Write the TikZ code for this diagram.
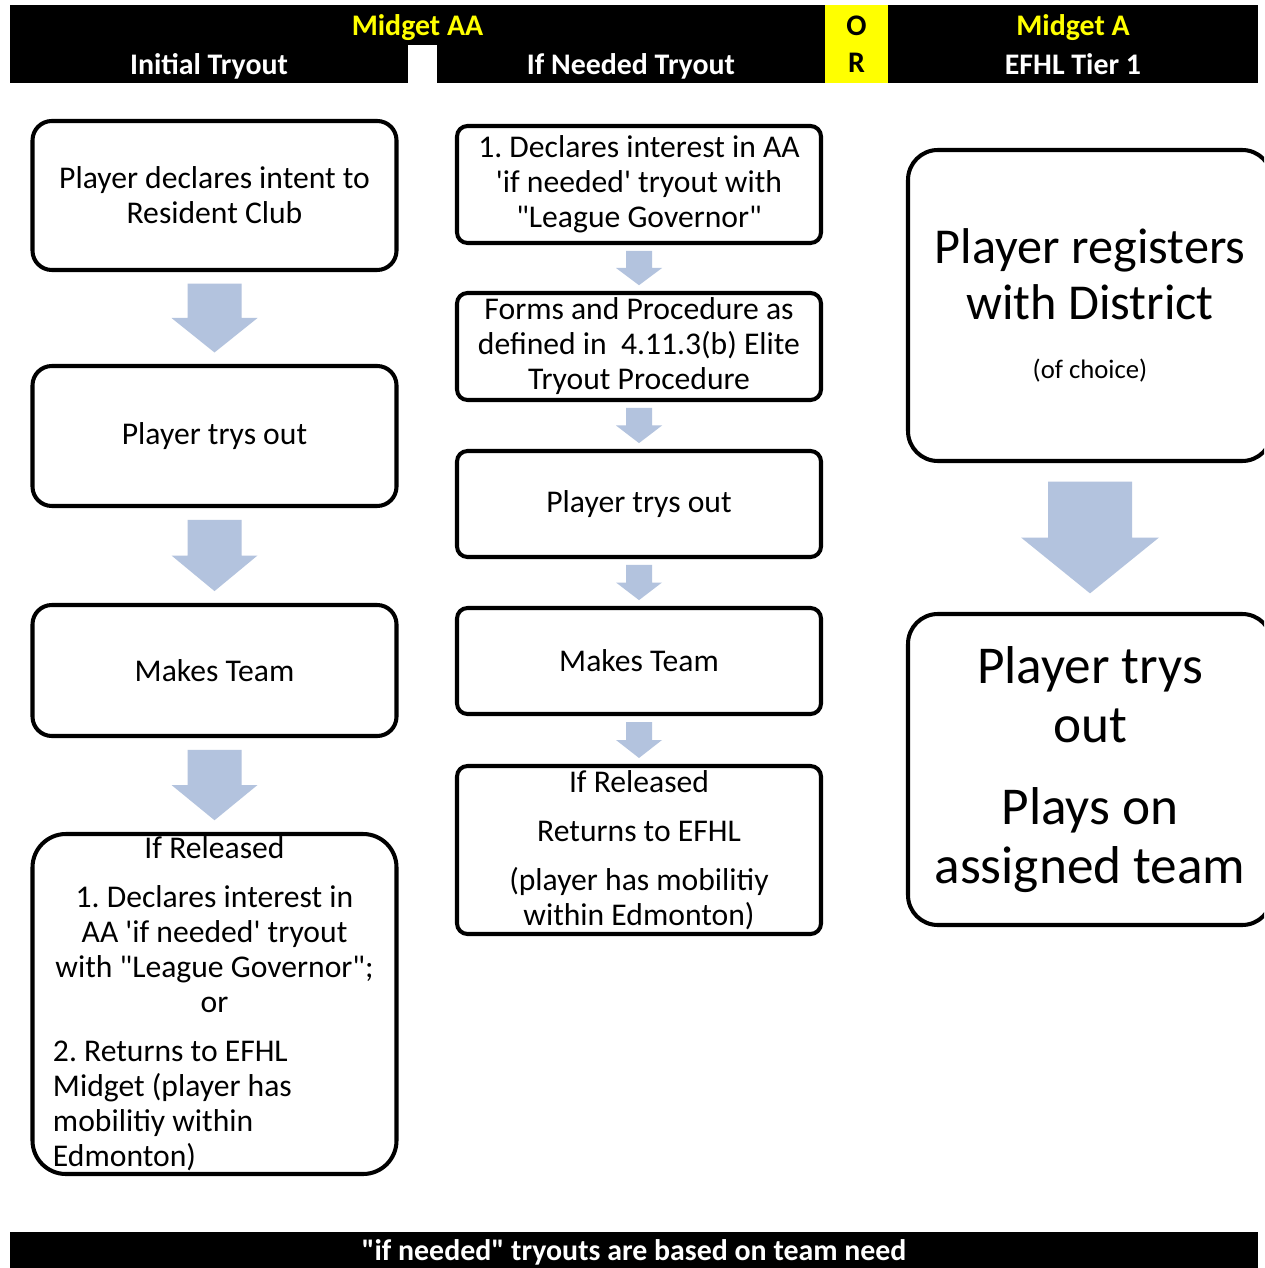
\documentclass[tikz,border=0pt]{standalone}
\usepackage{fontspec}
\setmainfont{Carlito}
\usetikzlibrary{calc}

\definecolor{arrowblue}{RGB}{179,195,222}
\definecolor{hdryellow}{RGB}{255,255,0}
\def\pxu{0.2mm}
\newcommand\boxfont{\frenchspacing\fontsize{18}{19.9}\selectfont}
\newcommand\bigfont{\fontsize{28.6}{31.5}\selectfont}
\newcommand\hdrfont{\bfseries\fontsize{17}{21}\selectfont}
\newcommand\sq{\textquotesingle}
\newcommand\dq{\textquotedbl}
\newlength\relwidth
\setlength\relwidth{64.6mm}

% block arrow in the gap between two boxes
\newcommand\flowarrow[4]{%
  \fill[arrowblue] let \p1=($(#1.south)!0.125!(#2.north)$), \p2=($(#1.south)!0.875!(#2.north)$),
    \p3=($(\p1)!0.5!(\p2)$) in
    (\x1-#3*\pxu,\y1) -- (\x1+#3*\pxu,\y1) -- (\x1+#3*\pxu,\y3) -- (\x1+#4*\pxu,\y3)
    -- (\x1,\y2) -- (\x1-#4*\pxu,\y3) -- (\x1-#3*\pxu,\y3) -- cycle;}

\tikzset{
  stepbox/.style={draw, line width=2.3pt, rounded corners=11pt, align=center, inner sep=0pt,
    font=\boxfont, minimum width=364*\pxu},
  midbox/.style={stepbox, rounded corners=6pt},
  bigbox/.style={stepbox, rounded corners=17pt, font=\bigfont},
  hdrbar/.style={fill=black, inner sep=0pt, text depth=0pt, text=white, font=\hdrfont, align=center}
}

\begin{document}
\begin{tikzpicture}[x=0.2mm, y=-0.2mm]

\clip (0,0) rectangle (1264,1268);
\fill[white] (0,0) rectangle (1264,1268);

% header
\node[hdrbar, text=hdryellow, minimum width=815*\pxu, minimum height=40*\pxu] (hdrAA) at (417.5,25) {Midget AA};
\node[hdrbar, minimum width=398*\pxu, minimum height=38*\pxu] (hdrInit) at (209,64) {Initial Tryout};
\node[hdrbar, minimum width=388*\pxu, minimum height=38*\pxu] (hdrIfN) at (631,64) {If Needed Tryout};
\node[hdrbar, fill=hdryellow, text=black, minimum width=63*\pxu, minimum height=78*\pxu] (hdrOR) at (856.5,44) {O\\R};
\node[hdrbar, text=hdryellow, minimum width=370*\pxu, minimum height=40*\pxu] (hdrA) at (1073,25) {Midget A};
\node[hdrbar, minimum width=370*\pxu, minimum height=38*\pxu] (hdrTier) at (1073,64) {EFHL Tier 1};

% initial tryout
\node[stepbox, minimum height=149*\pxu] (club) at (214.5,195.5) {Player declares intent to\\Resident Club};
\node[stepbox, minimum height=140*\pxu] (tryL) at (214.5,436) {Player trys out};
\node[stepbox, minimum height=131*\pxu] (teamL) at (214.5,670.5) {Makes Team};
\node[stepbox, rounded corners=19pt, minimum height=340*\pxu] (releasedL) at (214.5,1004)
  {\parbox{\relwidth}{\centering If Released\par\vspace{8pt}
   1. Declares interest in\\AA \sq if needed\sq{} tryout\\with \dq League Governor\dq;\\or\par\vspace{8pt}
   \raggedright 2. Returns to EFHL\\Midget (player has\\mobilitiy within\\Edmonton)\par}};

\flowarrow{club}{tryL}{27}{43}
\flowarrow{tryL}{teamL}{27}{43}
\flowarrow{teamL}{releasedL}{27}{43}

% if needed tryout
\node[midbox, minimum height=117*\pxu] (declare) at (639,184.5) {1. Declares interest in AA\\\sq if needed\sq{} tryout with\\\dq League Governor\dq};
\node[midbox, minimum height=107*\pxu] (forms) at (639,346.5) {Forms and Procedure as\\defined in\ \ 4.11.3(b) Elite\\Tryout Procedure};
\node[midbox, minimum height=106*\pxu] (tryM) at (639,504) {Player trys out};
\node[midbox, minimum height=106*\pxu] (teamM) at (639,661) {Makes Team};
\node[midbox, minimum height=168*\pxu] (releasedM) at (639,850) {If Released\\[8pt]Returns to EFHL\\[8pt](player has mobilitiy\\within Edmonton)};

\flowarrow{declare}{forms}{13}{23}
\flowarrow{forms}{tryM}{13}{23}
\flowarrow{tryM}{teamM}{13}{23}
\flowarrow{teamM}{releasedM}{13}{23}

% tier 1
\node[bigbox, minimum height=311*\pxu] (register) at (1090,305.5) {Player registers\\with District\\[2pt]{\fontsize{15.2}{17}\selectfont (of choice)}};
\node[bigbox, font=\fontsize{30.3}{33.5}\selectfont, minimum height=311*\pxu] (plays) at (1090,769.5) {Player trys\\out\\[13pt]Plays on\\assigned team};

\flowarrow{register}{plays}{42}{69}

% footer
\node[hdrbar, minimum width=1248*\pxu, minimum height=36*\pxu] (footer) at (634,1250) {\dq if needed\dq{} tryouts are based on team need};

\end{tikzpicture}
\end{document}
